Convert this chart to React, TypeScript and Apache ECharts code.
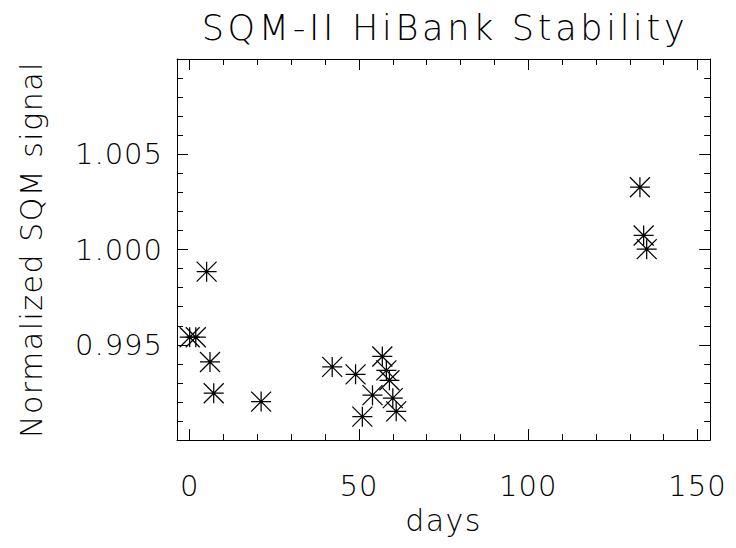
import React, { useEffect, useRef } from "react";
import * as echarts from "echarts";

const TITLE = "SQM-II HiBank Stability";
const X_NAME = "days";
const Y_NAME = "Normalized SQM signal";

const days = [5.0, 0.0, 1.8, 6.0, 7.1, 21.1, 42.1, 49.0, 51.0, 54.0, 56.9, 58.1, 59.0, 60.0, 61.0, 133.0, 134.1, 135.0];
const signal = [0.99884, 0.9954, 0.9954, 0.9941, 0.99246, 0.99202, 0.99384, 0.99345, 0.99123, 0.99236, 0.99439, 0.99366, 0.99314, 0.9922, 0.99151, 1.00327, 1.00074, 1.00002];

const X_MIN = -3.75;
const X_MAX = 153.75;
const X_MAJOR = 50;
const X_MINOR = 10;
const Y_MIN = 0.99;
const Y_MAX = 1.01;
const Y_MAJOR = 0.005;

const FONT = "DejaVu Sans";
const TITLE_SIZE = 35;
const NAME_SIZE = 30;
const LABEL_SIZE = 29;
const CSS = `
#root svg text { letter-spacing: 1px; }
#root svg text[style*="${NAME_SIZE}px"] { letter-spacing: 1.5px; }
#root svg text[style*="${TITLE_SIZE}px"] { letter-spacing: 3.7px; }
`;

export default function App() {
  const ref = useRef<HTMLDivElement>(null);
  useEffect(() => {
    if (!ref.current) return;
    const chart = echarts.init(ref.current, null, { renderer: "svg" });
    const lineStyle = { color: "#000", width: 1 };
    const tickStyle = { color: "#000", width: 1 };
    const textStyle = { fontFamily: FONT, fontWeight: 200 as any, color: "#000" };
    const xBase = (pos: "bottom" | "top", major: boolean) => ({
      type: "value" as const,
      position: pos,
      min: X_MIN,
      max: X_MAX,
      minInterval: major ? X_MAJOR : X_MINOR,
      maxInterval: major ? X_MAJOR : X_MINOR,
      axisLine: { show: major, onZero: false, lineStyle },
      axisTick: { show: true, inside: true, length: major ? 11 : 6, lineStyle: tickStyle },
      axisLabel: { show: false },
      splitLine: { show: false },
    });
    const xAxes: any[] = [
      {
        ...xBase("bottom", true),
        axisLabel: { show: true, showMinLabel: false, showMaxLabel: false, margin: 31, fontSize: LABEL_SIZE, ...textStyle },
        name: X_NAME,
        nameLocation: "middle",
        nameGap: 64,
        nameTextStyle: { fontSize: NAME_SIZE, ...textStyle },
      },
      xBase("bottom", false),
      xBase("top", true),
      xBase("top", false),
    ];
    const yBase = (pos: "left" | "right") => ({
      type: "value" as const,
      position: pos,
      min: Y_MIN,
      max: Y_MAX,
      interval: Y_MAJOR,
      axisLine: { show: true, onZero: false, lineStyle },
      axisTick: { show: true, inside: true, length: 11, lineStyle: tickStyle },
      minorTick: { show: true, splitNumber: 5, length: 6, lineStyle: tickStyle },
      axisLabel: { show: false },
      splitLine: { show: false },
      minorSplitLine: { show: false },
    });
    const yAxes: any[] = [
      {
        ...yBase("left"),
        axisLabel: {
          show: true, showMinLabel: false, showMaxLabel: false, margin: 14, fontSize: LABEL_SIZE,
          formatter: (v: number) => v.toFixed(3), ...textStyle,
        },
        name: Y_NAME,
        nameLocation: "middle",
        nameRotate: 90,
        nameGap: 131,
        nameTextStyle: { fontSize: NAME_SIZE, ...textStyle },
      },
      yBase("right"),
    ];
    chart.setOption({
      animation: false,
      backgroundColor: "#fff",
      title: {
        text: TITLE,
        left: 437,
        textAlign: "center",
        top: 2.5,
        padding: 0,
        textStyle: { fontSize: TITLE_SIZE, ...textStyle },
      },
      grid: { left: 163, top: 51, width: 545, height: 384 },
      xAxis: xAxes,
      yAxis: yAxes,
      series: [
        {
          type: "scatter",
          xAxisIndex: 0,
          yAxisIndex: 0,
          data: days.map((d, i) => [d, signal[i]]),
          symbol: "path://M0 10L20 10M10 0L10 20M0 0L20 20M20 0L0 20",
          symbolSize: 20,
          itemStyle: { color: "transparent", borderColor: "#000", borderWidth: 1.25, opacity: 1 },
          emphasis: { disabled: true },
        },
      ],
    });
    return () => chart.dispose();
  }, []);
  return (
    <>
      <style>{CSS}</style>
      <div ref={ref} style={{ width: 720, height: 532 }} />
    </>
  );
}
